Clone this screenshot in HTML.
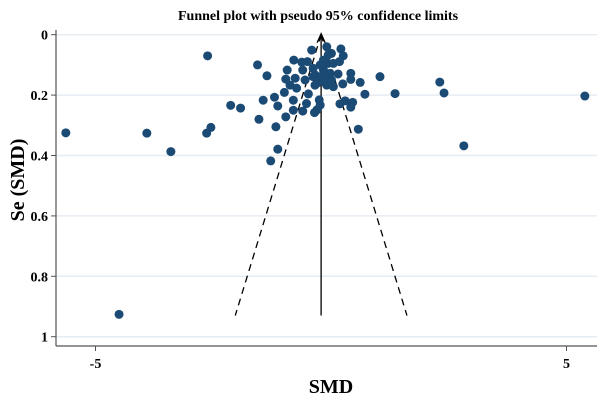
<!DOCTYPE html>
<html><head><meta charset="utf-8"><style>
html,body{margin:0;padding:0;background:#fff;width:600px;height:403px;overflow:hidden}
svg{display:block;font-family:"Liberation Serif",serif}
</style></head><body>
<svg id="chart" width="600" height="403">
<text x="318" y="20" text-anchor="middle" font-size="14" font-weight="bold">Funnel plot with pseudo 95% confidence limits</text>
<text transform="translate(24,180) rotate(-90)" text-anchor="middle" font-size="20" font-weight="bold">Se (SMD)</text>
<text x="331" y="393" text-anchor="middle" font-size="20" font-weight="bold">SMD</text>
<g id="grid"></g><g id="axes"></g><g id="lines"></g><g id="points"></g>
</svg>
<script>
const xTicks=[-5,5];
const yTicks=[0,0.2,0.4,0.6,0.8,1];
const yTickLabels=["0","0.2","0.4","0.6","0.8","1"];
const pooledEffect=-0.21;
const maxSe=0.93;
const smd=[-2.62,-1.56,-1.36,-0.79,-0.93,-0.96,-0.41,-0.62,-0.50,-0.60,-0.38,-0.09,0.01,0.21,0.26,0.18,-0.06,0.15,0.42,0.42,0.62,1.04,1.36,0.72,0.25,0.05,-0.09,-0.30,-0.34,-0.55,-0.76,-0.87,-0.73,-0.48,-0.99,-1.20,-1.44,-2.13,-1.92,-1.13,-0.80,-0.52,-0.25,-0.23,-0.30,-0.60,-0.80,-0.96,-0.35,0.19,0.30,0.46,0.42,-1.53,-1.17,-2.55,-2.64,0.58,-1.13,-1.28,-0.38,-0.23,-0.09,-0.16,-0.02,-0.34,-0.16,0.01,0.05,-0.16,-0.06,-0.23,-5.63,-3.91,-3.40,-4.50,5.39,2.31,2.40,2.82];
const se=[0.070,0.100,0.136,0.084,0.117,0.147,0.051,0.091,0.089,0.117,0.111,0.040,0.062,0.047,0.070,0.089,0.095,0.130,0.128,0.148,0.158,0.139,0.195,0.197,0.163,0.172,0.167,0.161,0.133,0.150,0.144,0.167,0.177,0.196,0.191,0.207,0.217,0.234,0.243,0.236,0.217,0.228,0.216,0.233,0.249,0.253,0.250,0.272,0.258,0.229,0.219,0.224,0.240,0.280,0.305,0.307,0.326,0.313,0.379,0.418,0.139,0.139,0.139,0.117,0.128,0.167,0.156,0.150,0.095,0.084,0.067,0.100,0.325,0.326,0.387,0.926,0.203,0.157,0.193,0.368];
const NS="http://www.w3.org/2000/svg";
const X=v=>331+v*47.1, Y=v=>34.7+v*302;
const L=56,R=597,B=346;
function mk(tag,parent,attrs){const e=document.createElementNS(NS,tag);for(const k in attrs)e.setAttribute(k,attrs[k]);document.getElementById(parent).appendChild(e);return e;}
yTicks.forEach((t,i)=>{
 let g=mk('line','grid',{x1:L,x2:R,y1:Y(t),y2:Y(t),stroke:'#e6edf2','stroke-width':1.5});
 
 
 let tk=mk('line','axes',{x1:L-5,x2:L,y1:Y(t),y2:Y(t),stroke:'#555','stroke-width':1});
 
 
 let tx=mk('text','axes',{x:L-8,y:Y(t)+5,'text-anchor':'end','font-size':14,'font-weight':'bold'});
 tx.textContent=yTickLabels[i];
 
 
});
xTicks.forEach(t=>{
 let tk=mk('line','axes',{x1:X(t),x2:X(t),y1:B,y2:B+5,stroke:'#555','stroke-width':1});
 
 
 let tx=mk('text','axes',{x:X(t),y:B+22,'text-anchor':'middle','font-size':14,'font-weight':'bold'});
 tx.textContent=String(t);
 
 
});
let ya=mk('line','axes',{x1:L,x2:L,y1:30,y2:B,stroke:'#555','stroke-width':1.2});


let xa=mk('line','axes',{x1:L,x2:R,y1:B,y2:B,stroke:'#555','stroke-width':1.2});


const cx=X(pooledEffect);
let vl=mk('line','lines',{x1:cx,x2:cx,y1:Y(0)+2,y2:Y(maxSe),stroke:'#000','stroke-width':1.3});


let ar=mk('path','lines',{d:`M${cx-4},${Y(0)+8} L${cx},${Y(0)-1} L${cx+4},${Y(0)+8}`,fill:'none',stroke:'#000','stroke-width':1.3});


[-1,1].forEach(s=>{
 let d=mk('line','lines',{x1:cx,y1:Y(0),x2:X(pooledEffect+s*1.96*maxSe),y2:Y(maxSe),stroke:'#000','stroke-width':1.3,'stroke-dasharray':'7,5'});
 
 
});
smd.forEach((v,i)=>{
 let c=mk('circle','points',{cx:X(v),cy:Y(se[i]),r:4.5,fill:'#1b4a74'});
 
 
});
</script>
</body></html>
